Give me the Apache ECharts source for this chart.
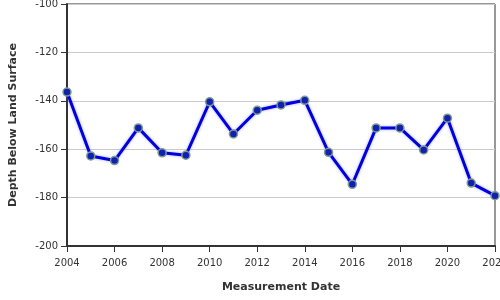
<!DOCTYPE html>
<html>
<head>
<meta charset="utf-8">
<script src="https://cdn.jsdelivr.net/npm/echarts@6/dist/echarts.min.js"></script>
<style>html,body{margin:0;padding:0;background:#fff}#c{width:500px;height:300px}</style>
</head>
<body>
<div id="c"></div>
<script>
const years = [2004,2005,2006,2007,2008,2009,2010,2011,2012,2013,2014,2015,2016,2017,2018,2019,2020,2021,2022];
const depths = [-136.4,-162.8,-164.7,-151.2,-161.5,-162.5,-140.4,-153.7,-143.9,-141.7,-139.8,-161.3,-174.5,-151.2,-151.2,-160.3,-147.2,-174.0,-179.2];
const xTitle = 'Measurement Date';
const yTitle = 'Depth Below Land Surface';

const chart = echarts.init(document.getElementById('c'), null, {renderer: 'canvas'});
const font = 'DejaVu Sans';
chart.setOption({
  animation: false,
  grid: {left: 67, right: 5, top: 4, bottom: 54, outerBoundsMode: 'none', containLabel: false, show: true, borderColor: '#333', borderWidth: 1, backgroundColor: 'transparent'},
  xAxis: {
    type: 'value', min: 2004, max: 2022, interval: 2,
    name: xTitle, nameLocation: 'middle', nameGap: 36,
    nameTextStyle: {fontFamily: font, fontSize: 11, fontWeight: 'bold', color: '#333'},
    axisLine: {show: true, lineStyle: {color: '#333', width: 2}},
    axisTick: {show: true, length: 6, lineStyle: {color: '#333', width: 1}},
    axisLabel: {fontFamily: font, fontSize: 10, color: '#333', margin: 12, formatter: v => String(v)},
    splitLine: {show: false}
  },
  yAxis: {
    type: 'value', min: -200, max: -100, interval: 20,
    name: yTitle, nameLocation: 'middle', nameGap: 48,
    nameTextStyle: {fontFamily: font, fontSize: 11, fontWeight: 'bold', color: '#333'},
    axisLine: {show: true, lineStyle: {color: '#333', width: 2}},
    axisTick: {show: true, length: 6, lineStyle: {color: '#333', width: 1}},
    axisLabel: {fontFamily: font, fontSize: 10, color: '#333', margin: 9},
    splitLine: {show: true, lineStyle: {color: '#ccc', width: 1}}
  },
  series: [{
    type: 'line',
    data: years.map((y, i) => [y, depths[i]]),
    lineStyle: {color: '#0000dd', width: 3, shadowColor: 'rgba(80,80,255,0.5)', shadowBlur: 3},
    symbol: 'circle', symbolSize: 8,
    itemStyle: {color: '#1020b0', borderColor: '#7f9a8f', borderWidth: 1.5},
    clip: false
  }]
});
</script>
</body>
</html>
